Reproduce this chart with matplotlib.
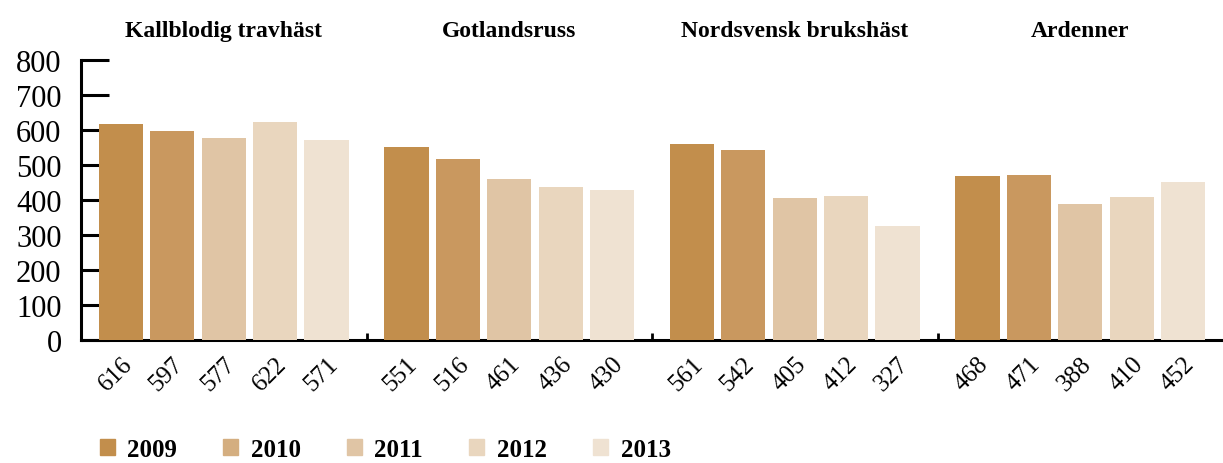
import matplotlib.pyplot as plt
import numpy as np
from matplotlib.patches import Patch

# --- DATA ---
breeds = ['Kallblodig travhäst', 'Gotlandsruss', 'Nordsvensk brukshäst', 'Ardenner']
years = ['2009', '2010', '2011', '2012', '2013']
counts = {
    '2009': [616, 551, 561, 468],
    '2010': [597, 516, 542, 471],
    '2011': [577, 461, 405, 388],
    '2012': [622, 436, 412, 410],
    '2013': [571, 430, 327, 452],
}
colors = ['#c28e4c', '#c9985f', '#e0c5a5', '#e9d6be', '#efe2d2']
legend_colors = ['#c28e4c', '#d4ae80', '#e0c5a5', '#e9d6be', '#efe2d2']
y_ticks = [0, 100, 200, 300, 400, 500, 600, 700, 800]

plt.rcParams['font.family'] = ['Liberation Serif', 'DejaVu Serif']

fig = plt.figure(figsize=(12.23, 4.64), dpi=100)
ax = fig.add_axes([81 / 1223, (464 - 341) / 464, 1 - 81 / 1223, (341 - 61) / 464])

pitch = 0.18
width = 0.155
group_x = np.arange(len(breeds)) + 0.5
tick_pos, tick_lab = [], []
for i, yr in enumerate(years):
    xs = group_x + (i - 2) * pitch
    ax.bar(xs, counts[yr], width=width, color=colors[i], zorder=2)
    tick_pos.extend(xs)
    tick_lab.extend(str(v) for v in counts[yr])

ax.set_xlim(0, len(breeds))
ax.set_ylim(0, 800)
ax.set_axisbelow(True)

for s in ['top', 'right']:
    ax.spines[s].set_visible(False)
ax.spines['left'].set_linewidth(2.2)
ax.spines['bottom'].set_linewidth(2.2)
ax.spines['bottom'].set_zorder(1)

ax.set_yticks(y_ticks)
ax.tick_params(axis='y', direction='in', length=20, width=2.2, labelsize=22, pad=14)

ax.set_xticks(tick_pos)
ax.set_xticklabels(tick_lab, rotation=45, ha='right', va='top',
                   rotation_mode='anchor', fontsize=18)
ax.tick_params(axis='x', length=0, pad=9)
ax.set_xticks([1, 2, 3], minor=True)
ax.tick_params(axis='x', which='minor', direction='in', length=5, width=2)

for gx, name in zip(group_x, breeds):
    ax.text(gx, 1.105, name, transform=ax.get_xaxis_transform(), ha='center',
            va='center', fontsize=17, fontweight='bold')

handles = [Patch(color=c, label=y) for c, y in zip(legend_colors, years)]
fig.legend(handles=handles, loc='center left', bbox_to_anchor=(0.063, 0.03),
           ncol=5, frameon=False, handlelength=0.6, handleheight=0.6,
           handletextpad=0.5, columnspacing=1.85,
           prop={'size': 18, 'weight': 'bold'})

fig.savefig('out.png', dpi=100)
